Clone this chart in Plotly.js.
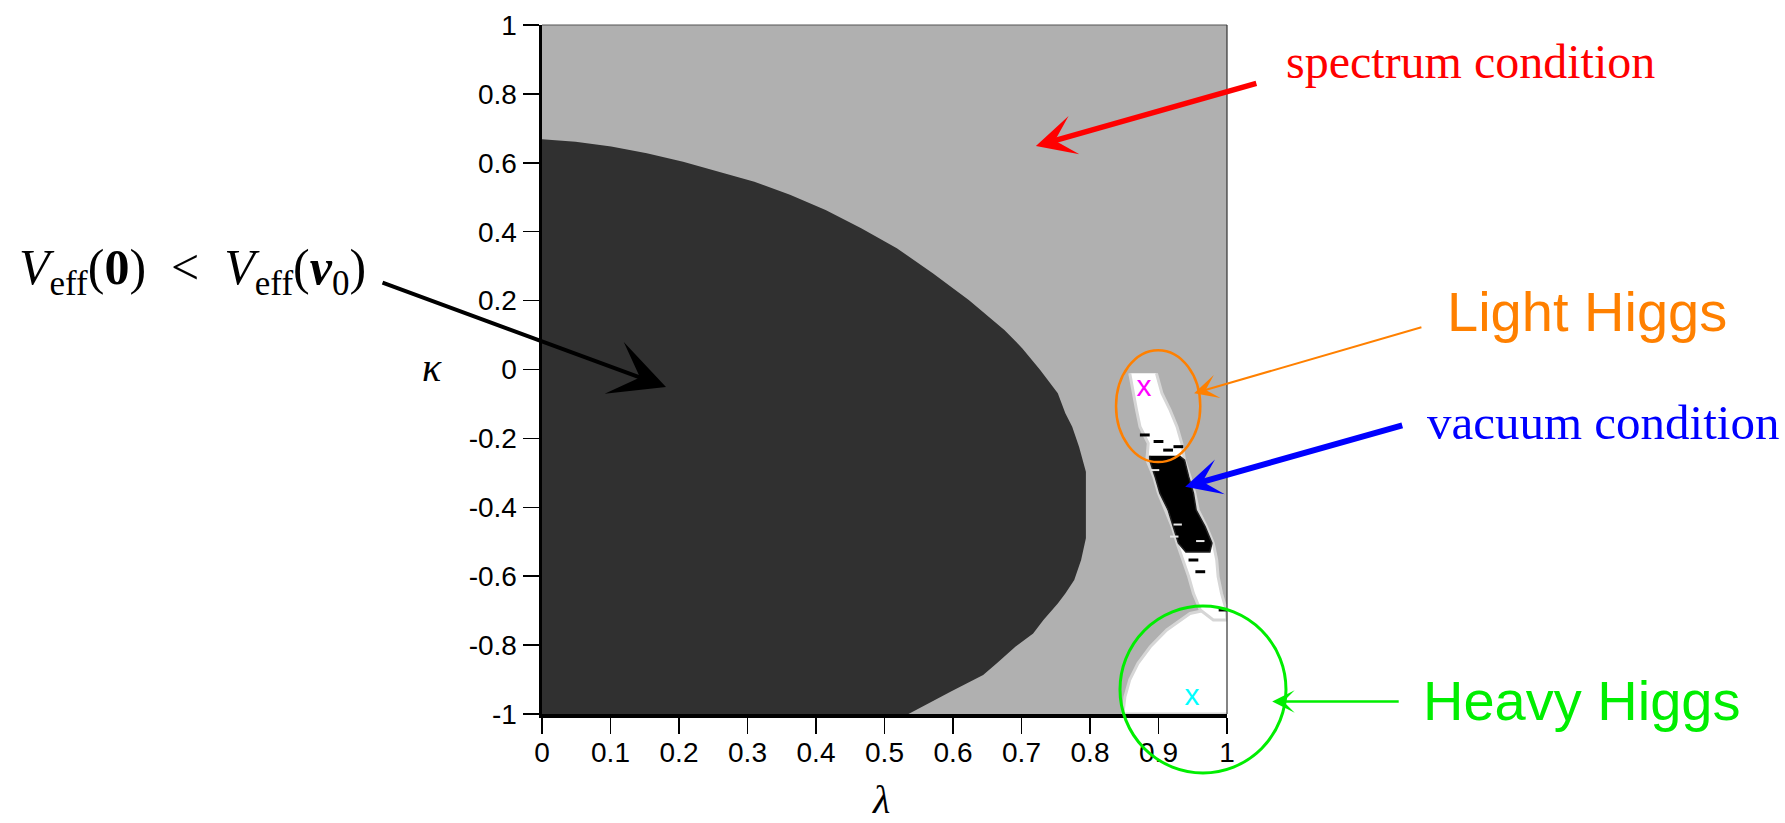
<!DOCTYPE html>
<html>
<head>
<meta charset="utf-8">
<script src="https://cdn.plot.ly/plotly-3.0.1.min.js"></script>
<style>html,body{margin:0;padding:0;background:#fff;}#chart{width:1785px;height:823px;}</style>
</head>
<body>
<div id="chart"></div>
<script>
// ---- axis ticks ----
const lambdaTicks = [0, 0.1, 0.2, 0.3, 0.4, 0.5, 0.6, 0.7, 0.8, 0.9, 1];
const lambdaTickText = ['0', '0.1', '0.2', '0.3', '0.4', '0.5', '0.6', '0.7', '0.8', '0.9', '1'];
const kappaTicks = [-1, -0.8, -0.6, -0.4, -0.2, 0, 0.2, 0.4, 0.6, 0.8, 1];
const kappaTickText = ['-1', '-0.8', '-0.6', '-0.4', '-0.2', '0', '0.2', '0.4', '0.6', '0.8', '1'];

// ---- region: V_eff(0) < V_eff(v0)  (boundary lambda vs kappa) ----
const darkKappa = [0.668, 0.661, 0.647, 0.628, 0.603, 0.574, 0.545, 0.507, 0.463, 0.410, 0.352, 0.279, 0.202, 0.115, 0.062, -0.001, -0.069, -0.127, -0.166, -0.224, -0.297, -0.490, -0.553, -0.611, -0.650, -0.679, -0.727, -0.766, -0.805, -0.853, -0.887, -0.935, -1.0];
const darkLambda = [0, 0.049, 0.101, 0.153, 0.206, 0.258, 0.310, 0.362, 0.414, 0.466, 0.518, 0.571, 0.623, 0.675, 0.701, 0.727, 0.753, 0.764, 0.774, 0.784, 0.794, 0.794, 0.787, 0.777, 0.764, 0.753, 0.732, 0.717, 0.691, 0.664, 0.644, 0.597, 0.535];

// ---- allowed band (white) ----
const bandKappa = [-0.011, -0.069, -0.118, -0.166, -0.214, -0.263, -0.311, -0.359, -0.408, -0.456, -0.504, -0.553, -0.601, -0.650, -0.698, -0.727];
const bandLeft = [0.858, 0.863, 0.868, 0.873, 0.885, 0.883, 0.893, 0.900, 0.910, 0.920, 0.927, 0.936, 0.944, 0.951, 0.961, 0.980];
const bandRight = [0.897, 0.905, 0.917, 0.927, 0.934, 0.938, 0.946, 0.953, 0.958, 0.970, 0.980, 0.985, 0.987, 0.992, 0.999, 1.0];

// ---- vacuum condition violated (black) ----
const blackKappa = [-0.250, -0.263, -0.311, -0.359, -0.408, -0.456, -0.504, -0.530];
const blackLeft = [0.887, 0.887, 0.895, 0.902, 0.914, 0.922, 0.929, 0.940];
const blackRight = [0.930, 0.938, 0.944, 0.951, 0.955, 0.968, 0.978, 0.975];

// ---- heavy Higgs region (white, bottom right) ----
const heavyKappa = [-0.685, -0.708, -0.756, -0.805, -0.853, -0.901, -0.950, -1.0];
const heavyLambda = [1.0, 0.946, 0.912, 0.888, 0.870, 0.858, 0.851, 0.848];

// ---- isolated speckles ----
const blackSpotLambda = [0.880, 0.900, 0.929, 0.914, 0.951, 0.961, 0.995];
const blackSpotKappa = [-0.190, -0.209, -0.224, -0.234, -0.553, -0.587, -0.698];
const whiteSpotLambda = [0.895, 0.928, 0.923, 0.961];
const whiteSpotKappa = [-0.292, -0.450, -0.485, -0.498];

// ---- benchmark points ----
const lightPointLambda = [0.879];
const lightPointKappa = [-0.054];
const heavyPointLambda = [0.949];
const heavyPointKappa = [-0.952];

const xMin = 0, xMax = 1, yMin = -1, yMax = 1;

function polyBetween(kap, left, right) {
  const x = left.concat(right.slice().reverse());
  const y = kap.concat(kap.slice().reverse());
  return {x, y};
}

const band = polyBetween(bandKappa, bandLeft, bandRight);
const black = polyBetween(blackKappa, blackLeft, blackRight);

const traces = [
  { // dark region
    x: [xMin].concat(darkLambda, [xMin]),
    y: [darkKappa[0]].concat(darkKappa, [yMin]),
    type: 'scatter', mode: 'lines', fill: 'toself',
    fillcolor: '#303030', line: {width: 0, color: '#303030'}, hoverinfo: 'skip'
  },
  { // heavy Higgs white region
    x: heavyLambda.concat([xMax]),
    y: heavyKappa.concat([yMin]),
    type: 'scatter', mode: 'lines', fill: 'toself',
    fillcolor: '#ffffff', line: {width: 3, color: '#d6d6d6'}, hoverinfo: 'skip'
  },
  { // band
    x: band.x, y: band.y,
    type: 'scatter', mode: 'lines', fill: 'toself',
    fillcolor: '#ffffff', line: {width: 3, color: '#d6d6d6'}, hoverinfo: 'skip'
  },
  { // black band
    x: black.x, y: black.y,
    type: 'scatter', mode: 'lines', fill: 'toself',
    fillcolor: '#000000', line: {width: 1.5, color: '#202020'}, hoverinfo: 'skip'
  },
  {
    x: blackSpotLambda, y: blackSpotKappa, type: 'scatter', mode: 'markers',
    marker: {symbol: 'line-ew', size: 7, color: '#000', line: {width: 3, color: '#000'}}, hoverinfo: 'skip'
  },
  {
    x: whiteSpotLambda, y: whiteSpotKappa, type: 'scatter', mode: 'markers',
    marker: {symbol: 'line-ew', size: 6, color: '#e8e8e8', line: {width: 2, color: '#e8e8e8'}}, hoverinfo: 'skip'
  },
  {
    x: lightPointLambda, y: lightPointKappa, type: 'scatter', mode: 'text', text: ['x'],
    textfont: {family: 'Liberation Sans, Arial, sans-serif', size: 30, color: '#ff00ff'},
    textposition: 'middle center', hoverinfo: 'skip'
  },
  {
    x: heavyPointLambda, y: heavyPointKappa, type: 'scatter', mode: 'text', text: ['x'],
    textfont: {family: 'Liberation Sans, Arial, sans-serif', size: 30, color: '#00ffff'},
    textposition: 'middle center', hoverinfo: 'skip'
  }
];

const serif = 'Liberation Serif, Times New Roman, serif';
const sans = 'Liberation Sans, Arial, Helvetica, sans-serif';

function arrow(x, y, ax, ay, color, width, size) {
  return {x, y, ax, ay, xref: 'x', yref: 'y', axref: 'x', ayref: 'y', text: '',
    showarrow: true, arrowhead: 3, arrowsize: size, arrowwidth: width, arrowcolor: color,
    standoff: 0, startstandoff: 0};
}
// arrow whose head lies outside the axis ranges: head in paper units, tail as pixel offset
function paperArrow(x, y, axPx, ayPx, color, width, size) {
  return {x, y, ax: axPx, ay: ayPx, xref: 'paper', yref: 'paper', text: '',
    showarrow: true, arrowhead: 3, arrowsize: size, arrowwidth: width, arrowcolor: color,
    standoff: 0, startstandoff: 0};
}
// label positions given in paper units (x: 0..1 across plot, y: 0..1 up the plot)
function label(x, y, text, size, family, color) {
  return {x, y, xref: 'paper', yref: 'paper', text, showarrow: false,
    font: {size, family, color}, xanchor: 'center', yanchor: 'middle'};
}

const layout = {
  width: 1785, height: 823,
  margin: {l: 542, r: 558, t: 25, b: 109, pad: 0},
  paper_bgcolor: '#ffffff', plot_bgcolor: '#b0b0b0',
  showlegend: false,
  xaxis: {
    range: [xMin, xMax], tickvals: lambdaTicks, ticktext: lambdaTickText,
    showgrid: false, zeroline: false, showline: true, linecolor: '#000', linewidth: 3.5,
    ticks: 'outside', ticklen: 16, tickwidth: 1.5, tickcolor: '#000', ticklabelstandoff: -5,
    tickfont: {family: sans, size: 28, color: '#000'}, fixedrange: true
  },
  yaxis: {
    range: [yMin, yMax], tickvals: kappaTicks, ticktext: kappaTickText,
    showgrid: false, zeroline: false, showline: true, linecolor: '#000', linewidth: 3.5,
    ticks: 'outside', ticklen: 16, tickwidth: 1.5, tickcolor: '#000',
    tickfont: {family: sans, size: 28, color: '#000'}, fixedrange: true
  },
  shapes: [
    {type: 'line', xref: 'paper', yref: 'paper', x0: 0, x1: 1, y0: 1, y1: 1, line: {color: '#555', width: 1.2}},
    {type: 'line', xref: 'paper', yref: 'paper', x0: 1, x1: 1, y0: 0, y1: 1, line: {color: '#333', width: 1.2}},
    {type: 'circle', xref: 'paper', yref: 'paper', x0: 0.838, x1: 0.961, y0: 0.3657, y1: 0.528, line: {color: '#ff8000', width: 2.5}},
    {type: 'circle', xref: 'paper', yref: 'paper', x0: 0.8438, x1: 1.0861, y0: -0.0855, y1: 0.15675, line: {color: '#00ee00', width: 3}}
  ],
  annotations: [
    arrow(0.181, -0.051, -0.235, 0.254, '#000000', 4, 2.3),
    arrow(0.721, 0.649, 1.045, 0.832, '#ff0000', 5.5, 1.2),
    arrow(0.952, -0.069, 1.286, 0.124, '#ff8000', 2, 2),
    arrow(0.939, -0.340, 1.258, -0.161, '#0000ff', 6, 1.0),
    paperArrow(1.066, 0.018, 128, 0, '#00ee00', 2.5, 1.5),
    label(-0.5095, 0.6435, '<i>V</i><sub>eff</sub>(<b>0</b>)\u2002&lt;\u2002<i>V</i><sub>eff</sub>(<b><i>v</i></b><sub>0</sub>)', 50, serif, '#000'),
    label(1.356, 0.9475, 'spectrum condition', 48, serif, '#ff0000'),
    label(1.525, 0.584, 'Light Higgs', 56, sans, '#ff8000'),
    label(1.549, 0.4225, 'vacuum condition', 49, serif, '#0000ff'),
    label(1.517, 0.019, 'Heavy Higgs', 56, sans, '#00ee00'),
    label(-0.1606, 0.5035, '<i>κ</i>', 40, serif, '#000'),
    label(0.495, -0.124, '<i>λ</i>', 40, serif, '#000')
  ]
};

Plotly.newPlot('chart', traces, layout, {displayModeBar: false, staticPlot: true});
</script>
</body>
</html>
